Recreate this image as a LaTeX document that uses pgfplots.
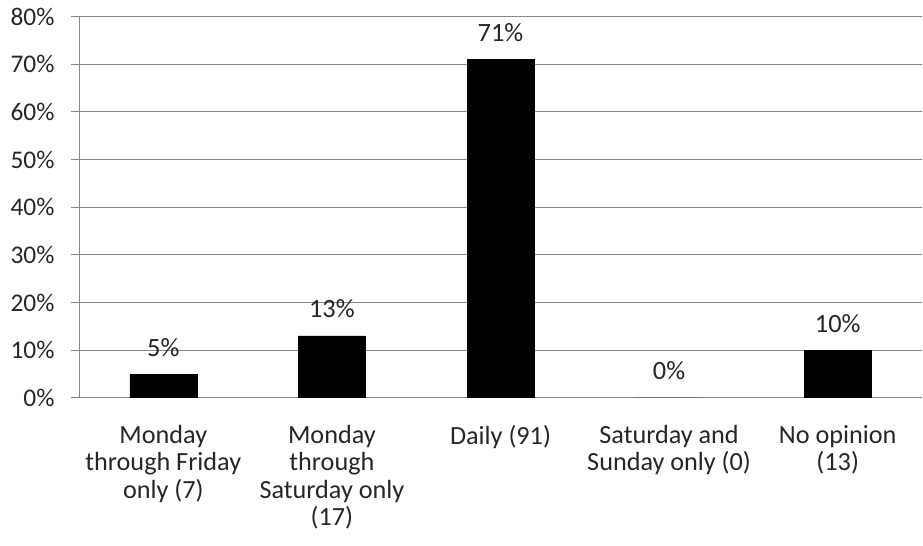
\documentclass[border=0pt]{standalone}
\usepackage{pgfplots}
\pgfplotsset{compat=1.18}
\usepackage{fontspec}
\setmainfont{Carlito}
\definecolor{gridgray}{HTML}{868686}
\begin{document}
\begin{tikzpicture}[x=1bp,y=1bp]
\useasboundingbox (0,0) rectangle (923,546);
\begin{axis}[
  at={(79bp,148bp)}, anchor=south west,
  width=843bp, height=381.5bp, scale only axis,
  xmin=-0.5, xmax=4.5, ymin=0, ymax=80,
  axis x line=bottom, axis y line=left,
  axis line style={gridgray, line width=1bp, -},
  ybar, bar width=67bp,
  /pgf/number format/assume math mode=true,
  ytick={0,10,...,80},
  yticklabels={0\%,10\%,20\%,30\%,40\%,50\%,60\%,70\%,80\%},
  ymajorgrids, grid style={gridgray, line width=1bp},
  xtick={0,1,2,3,4},
  xticklabels={{Monday\\through Friday\\only (7)},{Monday\\through\\Saturday only\\(17)},{Daily (91)},{Saturday and\\Sunday only (0)},{No opinion\\(13)}},
  minor xtick={-0.5,0.5,1.5,2.5,3.5,4.5},
  xtick style={draw=none},
  minor tick length=8bp, major tick length=8bp,
  tick align=outside,
  ytick style={gridgray, line width=1bp},
  every minor tick/.style={gridgray, line width=1bp},
  xticklabel style={align=center, font=\fontsize{26.3}{27.6}\selectfont, yshift=-15.5bp},
  yticklabel style={font=\fontsize{25.5}{27.5}\selectfont, xshift=-13bp},
  tick label style={text=black!85},
  nodes near coords={\pgfmathprintnumber{\pgfplotspointmeta}\%},
  point meta=y,
  every node near coord/.append style={font=\fontsize{26.5}{27.5}\selectfont, text=black!85, anchor=base, inner sep=0pt, yshift=18bp},
]
\addplot[fill=black, draw=black] coordinates {(0,5) (1,13) (2,71) (3,0) (4,10)};
\end{axis}
\end{tikzpicture}
\end{document}
